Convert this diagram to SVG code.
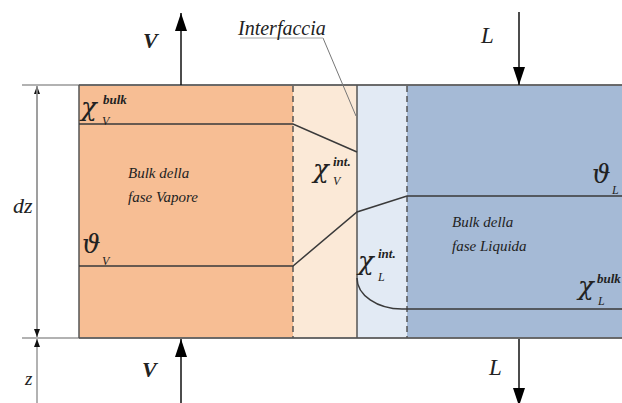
<svg xmlns="http://www.w3.org/2000/svg" width="622" height="403" viewBox="0 0 622 403">
<style>
.t{font-family:"Liberation Serif","DejaVu Serif",serif;font-style:italic;fill:#222}
.g{font-family:"DejaVu Serif","Liberation Serif",serif;font-size:26px}
.sup{font-size:13px;font-weight:bold}
.sub{font-size:12px}
.lbl{font-size:15px}
.prof{stroke:#3a3a3a;stroke-width:1.5;fill:none}
.dash{stroke:#555;stroke-width:1.5;stroke-dasharray:6,4}
.arr{stroke:#111;stroke-width:1.5}
.dim{stroke:#999;stroke-width:1.5}
</style>
<defs>
<marker id="ah" viewBox="0 0 18 12" refX="18" refY="6" markerUnits="userSpaceOnUse" markerWidth="18" markerHeight="12" orient="auto">
<path d="M0,0 L18,6 L0,12 Z" fill="#000"/>
</marker>
<marker id="ad" viewBox="0 0 8 6" refX="8" refY="3" markerUnits="userSpaceOnUse" markerWidth="8" markerHeight="6" orient="auto">
<path d="M0,0 L8,3 L0,6 Z" fill="#111"/>
</marker>
</defs>
<rect width="622" height="403" fill="#fff"/>
<g id="regions">
<rect id="vapor" x="79" y="85" width="214" height="253" fill="#F7BE94"/>
<rect id="vfilm" x="293" y="85" width="64" height="253" fill="#FBE9D7"/>
<rect id="lfilm" x="357" y="85" width="50" height="253" fill="#E2EAF4"/>
<rect id="liquid" x="407" y="85" width="215" height="253" fill="#A5BAD6"/>
</g>
<g id="borders">
<line class="dim" x1="22" y1="85" x2="622" y2="85"/>
<line class="dim" x1="22" y1="338" x2="622" y2="338"/>
<line x1="79" y1="85" x2="622" y2="85" stroke="#555" stroke-width="1.5"/>
<line x1="79" y1="338" x2="622" y2="338" stroke="#555" stroke-width="1.5"/>
<line x1="79" y1="85" x2="79" y2="338" stroke="#555" stroke-width="1.5"/>
<line x1="357" y1="85" x2="357" y2="338" stroke="#555" stroke-width="1.5"/>
<line class="dash" x1="293" y1="86" x2="293" y2="338"/>
<line class="dash" x1="407" y1="86" x2="407" y2="338"/>
</g>
<g id="connectors">
<path class="prof" d="M79,124 L293,124 L357,152"/>
<path class="prof" d="M79,266 L293,266 L357,212 L407,196 L622,196"/>
<path class="prof" d="M357,278 A45,31 0 0 0 402,309 L622,309"/>
<line x1="323" y1="38" x2="356" y2="116" stroke="#777" stroke-width="1"/>
<line class="arr" x1="181" y1="85" x2="181" y2="13" marker-end="url(#ah)"/>
<line class="arr" x1="181" y1="403" x2="181" y2="339" marker-end="url(#ah)"/>
<line class="arr" x1="519" y1="12" x2="519" y2="85" marker-end="url(#ah)"/>
<line class="arr" x1="519" y1="339" x2="519" y2="406" marker-end="url(#ah)"/>
<line class="dim" x1="37" y1="337" x2="37" y2="86" marker-end="url(#ad)"/>
<line class="dim" x1="37" y1="86" x2="37" y2="337" marker-end="url(#ad)"/>
<line class="dim" x1="37" y1="403" x2="37" y2="339" marker-end="url(#ad)"/>
</g>
<g id="labels">
<line x1="240" y1="38" x2="323" y2="38" stroke="#c4c4c4" stroke-width="1.5"/>
<text class="t" x="238" y="35" font-size="20">Interfaccia</text>
<text class="t" x="143" y="48" font-size="22" font-weight="bold" fill="#1c2340">V</text>
<text class="t" x="142" y="377" font-size="22" font-weight="bold" fill="#1c2340">V</text>
<text class="t" x="481" y="43" font-size="23">L</text>
<text class="t" x="489" y="375" font-size="23">L</text>
<text class="t" x="13" y="213" font-size="22" fill="#444">dz</text>
<text class="t" x="25" y="385" font-size="19" fill="#555">z</text>
<text class="t g" x="81" y="116">χ</text>
<text class="t sup" x="103" y="104">bulk</text>
<text class="t sub" x="102" y="125">V</text>
<text class="t g" x="82" y="253">ϑ</text>
<text class="t sub" x="102" y="265">V</text>
<text class="t lbl" x="128" y="178">Bulk della</text>
<text class="t lbl" x="128" y="202">fase Vapore</text>
<text class="t lbl" x="452" y="227">Bulk della</text>
<text class="t lbl" x="452" y="251">fase Liquida</text>
<text class="t g" x="313" y="178">χ</text>
<text class="t sup" x="333" y="166">int.</text>
<text class="t sub" x="333" y="185">V</text>
<text class="t g" x="358" y="270">χ</text>
<text class="t sup" x="378" y="258">int.</text>
<text class="t sub" x="378" y="281">L</text>
<text class="t g" x="592" y="183">ϑ</text>
<text class="t sub" x="612" y="194">L</text>
<text class="t g" x="578" y="295">χ</text>
<text class="t sup" x="597" y="283" font-size="11">bulk</text>
<text class="t sub" x="598" y="305">L</text>
</g>
</svg>
